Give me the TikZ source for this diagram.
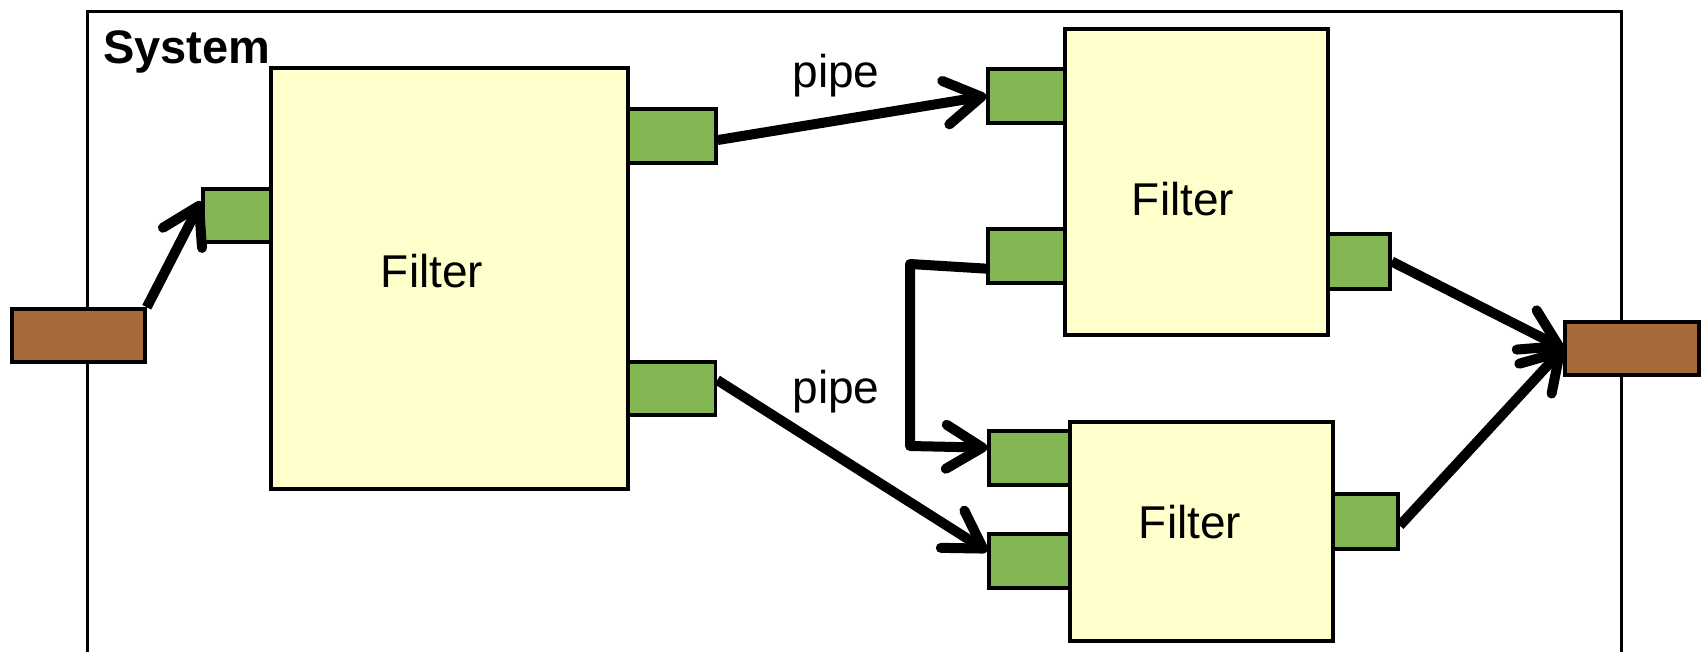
\documentclass[tikz,border=0pt]{standalone}
\usepackage{fontspec}
\setmainfont{Liberation Sans}
\usetikzlibrary{arrows.meta,calc}
\definecolor{filteryellow}{RGB}{255,255,204}
\definecolor{portgreen}{RGB}{131,183,83}
\definecolor{portbrown}{RGB}{167,107,57}
\begin{document}
\begin{tikzpicture}[x=1pt,y=-1pt,
  filterbox/.style={draw, line width=3.5pt, fill=filteryellow, rectangle, inner sep=0pt},
  port/.style={draw, line width=3.5pt, fill=portgreen, rectangle, inner sep=0pt},
  extport/.style={draw, line width=3.5pt, fill=portbrown, rectangle, inner sep=0pt},
  conn/.style={line width=10pt, line join=round, -{Straight Barb[length=36pt,width=44pt,line cap=round,line join=round]}},
  lbl/.style={font=\fontsize{46}{50}\selectfont, inner sep=0pt},
]
\useasboundingbox (0,0) rectangle (1702,651);
\clip (0,0) rectangle (1702,651);

% system frame
\node[draw, line width=3pt, rectangle, inner sep=0pt, minimum width=1534pt, minimum height=800pt, anchor=north west] (system) at (86,10) {};
\node[lbl, font=\fontsize{47}{50}\selectfont\bfseries, anchor=base west] (syslabel) at (103,63) {System};

% ports
\node[port, minimum width=68pt, minimum height=53pt] (inP) at (237,215.5) {};
\node[port, minimum width=88pt, minimum height=54pt] (outP1) at (672,136) {};
\node[port, minimum width=87pt, minimum height=53pt] (outP2) at (672,388.5) {};
\node[port, minimum width=77pt, minimum height=54pt] (trP1) at (1026.5,96) {};
\node[port, minimum width=77pt, minimum height=54pt] (trP2) at (1026.5,256) {};
\node[port, minimum width=62pt, minimum height=55pt] (trPo) at (1359,261.5) {};
\node[port, minimum width=81pt, minimum height=54pt] (brP1) at (1029.5,458) {};
\node[port, minimum width=81pt, minimum height=54pt] (brP2) at (1029.5,561) {};
\node[port, minimum width=65pt, minimum height=55pt] (brPo) at (1365.5,521.5) {};

% filters
\node[filterbox, minimum width=357pt, minimum height=421pt] (bigF) at (449.5,278.5) {};
\node[filterbox, minimum width=263pt, minimum height=306pt] (trF) at (1196.5,182) {};
\node[filterbox, minimum width=263pt, minimum height=219pt] (brF) at (1201.5,531.5) {};

% external ports
\node[extport, minimum width=133pt, minimum height=53pt] (brownL) at (78.5,335.5) {};
\node[extport, minimum width=134pt, minimum height=53pt] (brownR) at (1632,348.5) {};

% labels
\node[lbl, anchor=base] (f1) at (432,287) {Filter};
\node[lbl, anchor=base] (f2) at (1183,215) {Filter};
\node[lbl, anchor=base] (f3) at (1190,538) {Filter};
\node[lbl, anchor=base] (pipe1) at (836,87) {pipe};
\node[lbl, anchor=base] (pipe2) at (836,403) {pipe};

% connectors
\coordinate (c1) at (910,264);
\coordinate (c2) at (910,446);
\draw[conn] (brownL.north east) -- ($(inP.north west)!0.25!(inP.south west)$);
\draw[conn] ($(outP1.north east)!0.57!(outP1.south east)$) -- (trP1.west);
\draw[conn] ($(outP2.north east)!0.35!(outP2.south east)$) -- ($(brP2.north west)!0.33!(brP2.south west)$);
\draw[conn] ($(trP2.north west)!0.72!(trP2.south west)$) -- (c1) -- (c2) -- ($(brP1.north west)!0.32!(brP1.south west)$);
\draw[conn] (trPo.east) -- (brownR.west);
\draw[conn] ($(brPo.north east)!0.57!(brPo.south east)$) -- (brownR.west);
\end{tikzpicture}
\end{document}
